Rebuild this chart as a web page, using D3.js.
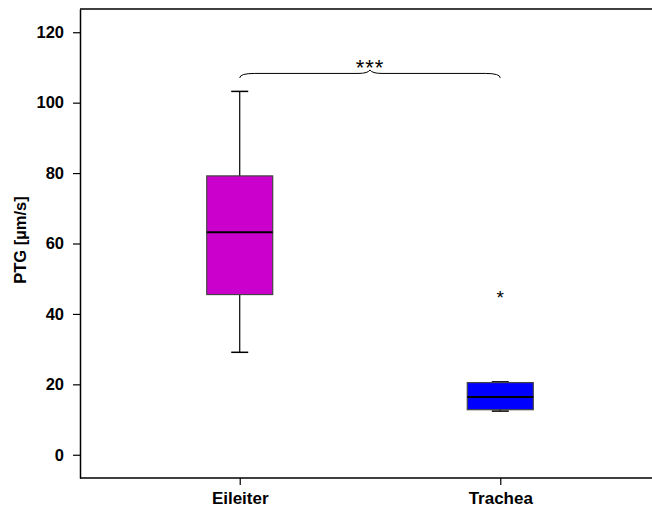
<!doctype html>
<html lang="en">
  <head>
    <meta charset="UTF-8" />
    <title>PTG Boxplot</title>
    <script src="https://cdn.jsdelivr.net/npm/d3@7"></script>
    <style>
      body { margin: 0; background: #fff; overflow: hidden; }
      svg { display: block; }
      text { font-family: "Liberation Sans", Arial, sans-serif; }
    </style>
  </head>
  <body>
    <div id="chart"></div>
    <script>
      // values
      const groups = ["Eileiter", "Trachea"];
      const whiskerLow = [29.1, 12.4];
      const q1 = [45.5, 12.8];
      const median = [63.2, 16.4];
      const q3 = [79.2, 20.5];
      const whiskerHigh = [103.2, 20.7];
      const outliers = [[], [45.8]];
      const colors = ["#cc00cc", "#0000ff"];
      const yTicks = [0, 20, 40, 60, 80, 100, 120];
      const sigLabel = "***";
      const sigLevel = 108.3;

      const width = 652;
      const height = 508;
      const marginLeft = 80;
      const marginTop = 9;
      const marginBottom = 30;

      const svg = d3.select("#chart").append("svg")
          .attr("width", width)
          .attr("height", height);

      const x = d3.scalePoint()
          .domain(groups)
          .range([marginLeft, 660])
          .padding(0.613);

      const y = d3.scaleLinear()
          .domain([-6.6, 126.6])
          .range([height - marginBottom, marginTop]);

      const boxW = 66;
      const capW = 17;

      // frame: top line
      svg.append("line")
          .attr("x1", marginLeft).attr("x2", width)
          .attr("y1", marginTop).attr("y2", marginTop)
          .attr("stroke", "#000").attr("stroke-width", 1.5);

      // y-axis
      const yAxis = svg.append("g")
          .attr("transform", `translate(${marginLeft},0)`)
          .call(d3.axisLeft(y).tickValues(yTicks).tickSize(7).tickPadding(9).tickSizeOuter(0));
      yAxis.select(".domain").attr("stroke-width", 1.5);
      yAxis.selectAll(".tick line").attr("stroke-width", 1.2);
      yAxis.selectAll("text")
          .style("font-size", "16.5px")
          .style("font-weight", "bold")
          .attr("fill", "#000");

      // x-axis
      const xAxis = svg.append("g")
          .attr("transform", `translate(0,${height - marginBottom})`)
          .call(d3.axisBottom(x).tickSize(7).tickPadding(7).tickSizeOuter(0));
      xAxis.select(".domain").attr("d", `M${marginLeft},0H${width}`).attr("stroke-width", 1.5);
      xAxis.selectAll(".tick line").attr("stroke-width", 1.2);
      xAxis.selectAll("text")
          .style("font-size", "17px")
          .style("font-weight", "bold")
          .attr("fill", "#000");

      // y title
      svg.append("text")
          .attr("transform", `translate(26,240) rotate(-90)`)
          .attr("text-anchor", "middle")
          .style("font-size", "16.5px")
          .style("font-weight", "bold")
          .text("PTG [µm/s]");

      // boxes
      const box = svg.selectAll("g.box")
        .data(groups)
        .enter()
        .append("g")
          .attr("class", "box");

      box.append("line")
          .attr("x1", d => x(d)).attr("x2", d => x(d))
          .attr("y1", (d, i) => y(whiskerLow[i]))
          .attr("y2", (d, i) => y(whiskerHigh[i]))
          .attr("stroke", "#000").attr("stroke-width", 1.2);

      box.selectAll("line.cap")
        .data((d, i) => [[d, whiskerLow[i]], [d, whiskerHigh[i]]])
        .enter()
        .append("line")
          .attr("class", "cap")
          .attr("x1", d => x(d[0]) - capW / 2).attr("x2", d => x(d[0]) + capW / 2)
          .attr("y1", d => y(d[1])).attr("y2", d => y(d[1]))
          .attr("stroke", "#000").attr("stroke-width", 1.5);

      box.append("rect")
          .attr("x", d => x(d) - boxW / 2)
          .attr("width", boxW)
          .attr("y", (d, i) => y(q3[i]))
          .attr("height", (d, i) => y(q1[i]) - y(q3[i]))
          .attr("fill", (d, i) => colors[i])
          .attr("stroke", "#444").attr("stroke-width", 1.2);

      box.append("line")
          .attr("x1", d => x(d) - boxW / 2).attr("x2", d => x(d) + boxW / 2)
          .attr("y1", (d, i) => y(median[i])).attr("y2", (d, i) => y(median[i]))
          .attr("stroke", "#000").attr("stroke-width", 2);

      // outliers
      groups.forEach((g, i) => {
        svg.selectAll(null)
          .data(outliers[i])
          .enter()
          .append("text")
            .attr("x", x(g))
            .attr("y", v => y(v) + 11)
            .attr("text-anchor", "middle")
            .style("font-size", "19px")
            .text("*");
      });

      // significance brace
      const bx1 = x(groups[0]), bx2 = x(groups[1]);
      const by = y(sigLevel);
      const mid = (bx1 + bx2) / 2;
      svg.append("path")
          .attr("d", `M${bx1},${by + 4.5} Q${bx1},${by} ${bx1 + 15},${by}
                      L${mid - 12},${by} Q${mid - 2},${by} ${mid},${by - 3.5}
                      Q${mid + 2},${by} ${mid + 12},${by}
                      L${bx2 - 15},${by} Q${bx2},${by} ${bx2},${by + 4.5}`)
          .attr("fill", "none")
          .attr("stroke", "#000")
          .attr("stroke-width", 1);

      svg.append("text")
          .attr("x", mid)
          .attr("y", by + 2)
          .attr("text-anchor", "middle")
          .style("font-size", "22px")
          .style("letter-spacing", "1px")
          .text(sigLabel);
    </script>
  </body>
</html>
